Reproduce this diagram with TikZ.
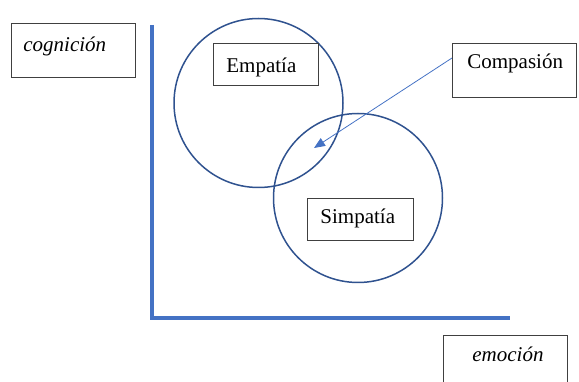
\documentclass[tikz,border=0pt]{standalone}
\usepackage{fontspec}
\setmainfont{Liberation Serif}
\usetikzlibrary{arrows.meta}
\definecolor{axisblue}{HTML}{4472C4}
\definecolor{circblue}{HTML}{2F528F}
\definecolor{boxgray}{HTML}{404040}
\begin{document}
\begin{tikzpicture}[x=1pt,y=-1pt,
  lbl/.style={draw=boxgray, line width=0.8pt, fill=white, anchor=north west, inner ysep=0pt, align=left, font=\fontsize{21}{24}\selectfont},
  venn/.style={circle, draw=circblue, line width=1.5pt, minimum size=169pt, inner sep=0pt},
  axisline/.style={draw=axisblue, line width=4pt, line join=miter},
  pointer/.style={draw=axisblue, line width=0.8pt, -{Triangle[width=9pt,length=11pt]}}]
\useasboundingbox (0,0) rectangle (579,382);
\clip (0,0) rectangle (579,382);
% axes
\coordinate (top) at (152,25);
\coordinate (origin) at (152,318);
\coordinate (right) at (510,318);
\draw[axisline] (top) -- (origin) -- (right);
% circles
\node[venn] (c1) at (258.5,103) {};
\node[venn] (c2) at (358,198) {};
% labels
\node[lbl, inner xsep=12pt, text width=100pt, text height=28pt, text depth=26pt] (cog) at (11,23) {\itshape cognición};
\node[lbl, inner xsep=13pt, text width=79pt, text height=29pt, text depth=13pt] (emp) at (213,43) {Empatía};
\node[lbl, inner xsep=15pt, text width=94pt, text height=25pt, text depth=29pt] (comp) at (452,43) {Compasión};
\node[lbl, inner xsep=13pt, text width=80pt, text height=25pt, text depth=17pt] (simp) at (307,198) {Simpatía};
\node[lbl, inner xsep=29pt, text width=66pt, text height=26pt, text depth=32pt] (emo) at (443,335) {\itshape emoción};
% arrow
\coordinate (inter) at (314,148);
\draw[pointer] (comp.west |- 0,58) -- (inter);
\end{tikzpicture}
\end{document}
